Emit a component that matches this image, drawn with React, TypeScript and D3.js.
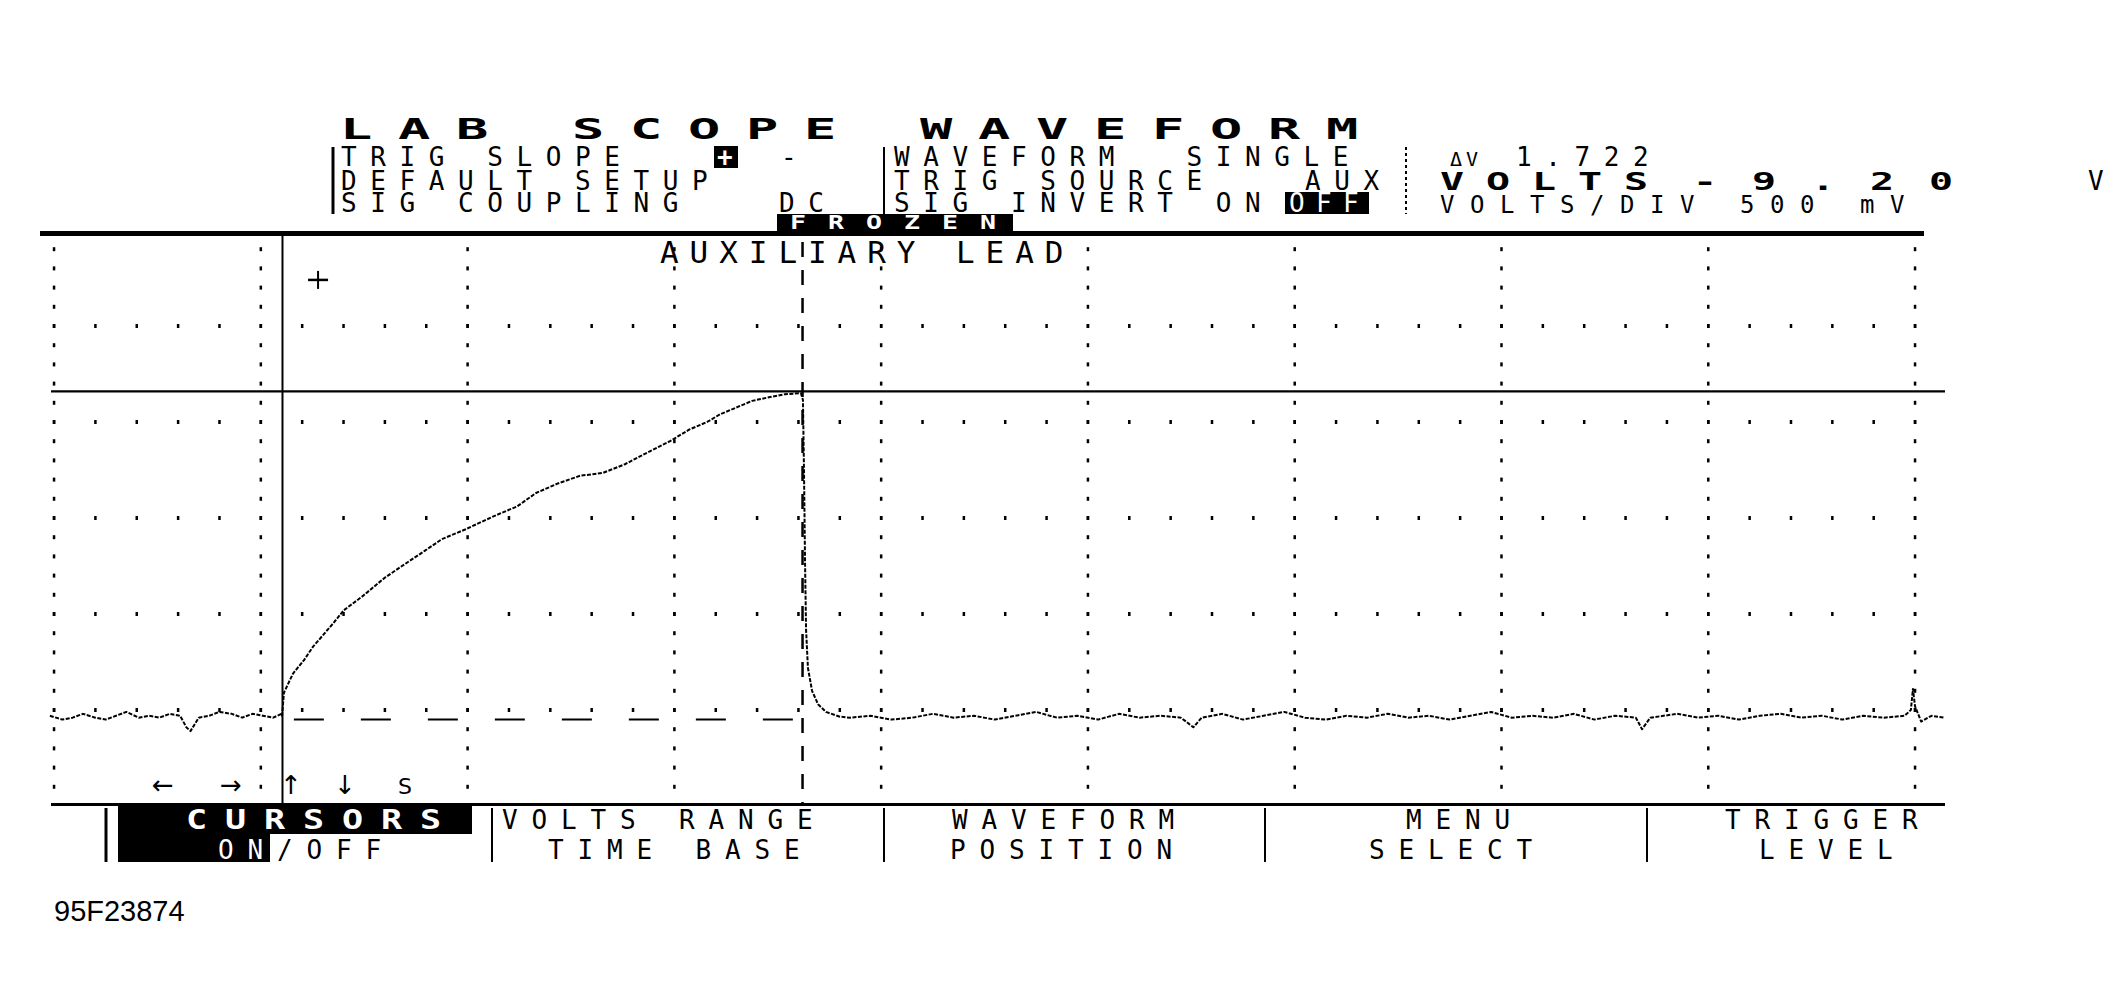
import React from "react";
import * as d3 from "d3";

const W = 2113;
const H = 995;

// screen text
const titleText = "LAB SCOPE WAVEFORM";
const leftLabels = ["TRIG SLOPE", "DEFAULT SETUP", "SIG COUPLING"];
const slopeOptions = ["+", "-"];
const couplingValue = "DC";
const midLabels = ["WAVEFORM  SINGLE", "TRIG SOURCE", "SIG INVERT ON"];
const triggerSource = "AUX";
const invertValue = "OFF";
const frozenLabel = "FROZEN";
const deltaLabel = "ΔV";
const deltaValue = "1.722";
const voltsLabel = "VOLTS";
const voltsValue = "-9.20";
const voltsUnit = "V";
const voltsPerDiv = "VOLTS/DIV 500 mV";
const channelLabel = "AUXILIARY LEAD";
const cursorKeys = ["←", "→", "↑", "↓", "S"];
const menuTop = ["CURSORS", "VOLTS RANGE", "WAVEFORM", "MENU", "TRIGGER"];
const menuBottom = ["ON/OFF", "TIME BASE", "POSITION", "SELECT", "LEVEL"];
const figureId = "95F23874";

// trace, time in divisions, volts (500 mV/div)
const preTime = [-0.02, 0.04, 0.09, 0.14, 0.2, 0.25, 0.3, 0.35, 0.41, 0.46, 0.51, 0.56, 0.61, 0.64, 0.66, 0.7, 0.75, 0.8, 0.86, 0.91, 0.96, 1.01, 1.06, 1.1];
const preVolts = [0.47, 0.45, 0.46, 0.48, 0.46, 0.45, 0.47, 0.49, 0.46, 0.47, 0.46, 0.48, 0.47, 0.41, 0.39, 0.46, 0.47, 0.49, 0.48, 0.46, 0.48, 0.47, 0.46, 0.48];

const rampTime = [1.103, 1.112, 1.156, 1.209, 1.253, 1.349, 1.402, 1.489, 1.601, 1.683, 1.794, 1.876, 1.988, 2.128, 2.239, 2.331, 2.437, 2.544, 2.655, 2.761, 2.868, 2.979, 3.071, 3.158, 3.221, 3.288, 3.376, 3.463, 3.535, 3.612, 3.622, 3.627, 3.632, 3.637, 3.646, 3.666, 3.695, 3.733, 3.801];
const rampVolts = [0.47, 0.59, 0.69, 0.76, 0.83, 0.95, 1.02, 1.09, 1.19, 1.25, 1.33, 1.39, 1.44, 1.51, 1.56, 1.63, 1.68, 1.72, 1.735, 1.78, 1.84, 1.9, 1.96, 2.0, 2.04, 2.07, 2.11, 2.13, 2.145, 2.15, 2.115, 1.75, 1.28, 0.92, 0.72, 0.6, 0.53, 0.49, 0.465];

const postTime = [3.85, 3.95, 4.05, 4.15, 4.25, 4.35, 4.45, 4.55, 4.65, 4.75, 4.85, 4.95, 5.05, 5.15, 5.25, 5.35, 5.45, 5.51, 5.55, 5.65, 5.75, 5.85, 5.95, 6.05, 6.15, 6.25, 6.35, 6.45, 6.55, 6.65, 6.75, 6.85, 6.95, 7.05, 7.15, 7.25, 7.35, 7.45, 7.55, 7.65, 7.68, 7.72, 7.85, 7.95, 8.05, 8.15, 8.25, 8.35, 8.45, 8.55, 8.65, 8.75, 8.85, 8.95, 8.98, 8.99, 9.0, 9.03, 9.08, 9.14];
const postVolts = [0.46, 0.47, 0.45, 0.46, 0.48, 0.46, 0.47, 0.45, 0.47, 0.49, 0.46, 0.47, 0.45, 0.48, 0.46, 0.47, 0.46, 0.41, 0.46, 0.48, 0.45, 0.47, 0.49, 0.46, 0.45, 0.47, 0.46, 0.48, 0.46, 0.47, 0.45, 0.47, 0.49, 0.46, 0.47, 0.46, 0.48, 0.45, 0.47, 0.46, 0.4, 0.46, 0.48, 0.46, 0.47, 0.45, 0.47, 0.48, 0.46, 0.47, 0.45, 0.47, 0.46, 0.47, 0.5, 0.61, 0.52, 0.44, 0.47, 0.46];

// faint previous baseline under the ramp
const ghostTime = [1.16, 3.58];
const ghostVolts = [0.45, 0.45];

const cursorTime = [1.105, 3.62];
const cursorVolts = [2.16];
const markerTime = [1.277];
const markerVolts = [2.74];

const FONT = "DejaVu Sans Mono, monospace";

function Lcd({ x, y, text, pitch = 29.25, size = 26, bold = false, sx = 1, fill = "#000" }) {
  const xs = Array.from(text).map((_, i) => ((i * pitch) / sx).toFixed(1));
  return (
    <text
      transform={`translate(${x},${y}) scale(${sx},1)`}
      x={xs.join(" ")}
      y={0}
      xmlSpace="preserve"
      fontFamily={FONT}
      fontSize={size}
      fontWeight={bold ? 700 : 400}
      fill={fill}
    >
      {text}
    </text>
  );
}

export default function App() {
  const x = d3.scaleLinear().domain([0, 9]).range([54, 1915]);
  const y = d3.scaleLinear().domain([0, 3]).range([806, 230]);

  const xMajor = x.ticks(9);
  const xMinor = d3.range(0, 9.001, 0.2);
  const yMajor = [0.5, 1, 1.5, 2, 2.5];
  const yMinor = d3.range(0.1, 2.95, 0.1);

  const line = d3
    .line<[number, number]>()
    .x((d) => x(d[0]))
    .y((d) => y(d[1]));

  const trace: [number, number][] = [
    ...preTime.map((t, i) => [t, preVolts[i]] as [number, number]),
    ...rampTime.map((t, i) => [t, rampVolts[i]] as [number, number]),
    ...postTime.map((t, i) => [t, postVolts[i]] as [number, number]),
  ];
  const ghost: [number, number][] = ghostTime.map((t, i) => [t, ghostVolts[i]]);

  const cx0 = x(cursorTime[0]);
  const cx1 = x(cursorTime[1]);
  const cy = y(cursorVolts[0]);
  const mx = x(markerTime[0]);
  const my = y(markerVolts[0]);

  // header rows (baselines)
  const r1 = 166;
  const r2 = 190;
  const r3 = 212;

  const menuStart = [
    [186, 218],
    [502, 548],
    [952, 950],
    [1406, 1369],
    [1725, 1759],
  ];
  const menuSeps = [106, 492, 884, 1265, 1647];
  const keyX = [152, 220, 280, 334, 398];
  const m1 = 829;
  const m2 = 859;

  return (
    <svg width={W} height={H} style={{ position: "absolute", left: 0, top: 0, background: "#fff" }}>
      <rect width={W} height={H} fill="#fff" />

      {/* header */}
      <Lcd x={340} y={139} text={titleText} pitch={58} size={29} bold sx={1.85} />
      <line x1={333} x2={333} y1={147} y2={214} stroke="#000" strokeWidth={3} />
      <line x1={884} x2={884} y1={147} y2={214} stroke="#000" strokeWidth={2} />
      <line x1={1406} x2={1406} y1={147} y2={214} stroke="#000" strokeWidth={2} strokeDasharray="3 3" />

      <Lcd x={341} y={r1} text={leftLabels[0]} />
      <rect x={714} y={146} width={24} height={22} fill="#000" />
      <Lcd x={717} y={r1} text={slopeOptions[0]} fill="#fff" bold />
      <Lcd x={781} y={r1} text={slopeOptions[1]} />
      <Lcd x={894} y={r1} text={midLabels[0]} />
      <Lcd x={1450} y={r1} text={deltaLabel} size={20} pitch={16} />
      <Lcd x={1516} y={r1} text={deltaValue} />

      <Lcd x={341} y={r2} text={leftLabels[1]} />
      <Lcd x={894} y={r2} text={midLabels[1]} />
      <Lcd x={1305} y={r2} text={triggerSource} />
      <Lcd x={1440} y={r2} text={voltsLabel} pitch={46} size={25} bold sx={1.6} />
      <Lcd x={1693} y={r2} text={voltsValue} pitch={59} size={25} bold sx={1.6} />
      <Lcd x={2088} y={r2} text={voltsUnit} />

      <Lcd x={341} y={r3} text={leftLabels[2]} />
      <Lcd x={779} y={r3} text={couplingValue} />
      <Lcd x={894} y={r3} text={midLabels[2]} />
      <rect x={1285} y={192} width={84} height={22} fill="#000" />
      <Lcd x={1289} y={r3} text={invertValue} pitch={27} fill="#fff" />
      <Lcd x={1440} y={r3 + 1} text={voltsPerDiv} pitch={30} size={24} />

      <rect x={777} y={214} width={236} height={17} fill="#000" />
      <Lcd x={790} y={229} text={frozenLabel} pitch={38} size={19} bold sx={1.4} fill="#fff" />

      {/* screen frame */}
      <rect x={40} y={231} width={1884} height={5} fill="#000" />
      <rect x={51} y={803} width={1894} height={3} fill="#000" />

      {/* grid dots */}
      <g fill="#000">
        {xMajor.map((t) =>
          yMinor.map((v) => (
            <rect key={`v${t}-${v}`} x={x(t) - 1.2} y={y(v) - 2} width={2.5} height={4} />
          ))
        )}
        {yMajor.map((v) =>
          xMinor.map((t) => (
            <rect key={`h${v}-${t}`} x={x(t) - 1.2} y={y(v) - 2} width={2.5} height={4} />
          ))
        )}
      </g>

      <Lcd x={660} y={263} text={channelLabel} pitch={29.6} size={31} />

      {/* cursors */}
      <line x1={51} x2={1945} y1={cy} y2={cy} stroke="#000" strokeWidth={2.2} />
      <line x1={cx0} x2={cx0} y1={235} y2={803} stroke="#000" strokeWidth={2} />
      <line x1={cx1} x2={cx1} y1={242} y2={803} stroke="#000" strokeWidth={2.5} strokeDasharray="15 13" />
      <line x1={mx - 10} x2={mx + 10} y1={my} y2={my} stroke="#000" strokeWidth={2.5} />
      <line x1={mx} x2={mx} y1={my - 9} y2={my + 9} stroke="#000" strokeWidth={2} />

      {/* waveform */}
      <path d={line(ghost) || ""} fill="none" stroke="#000" strokeWidth={2} strokeDasharray="30 37" />
      <path d={line(trace) || ""} fill="none" stroke="#000" strokeWidth={2} strokeDasharray="4 1.5" strokeLinejoin="round" />

      {/* cursor keys */}
      {cursorKeys.map((k, i) => (
        <text key={k} x={keyX[i]} y={794} fontFamily="DejaVu Sans, sans-serif" fontSize={i === 4 ? 22 : 26} fill="#000">
          {k}
        </text>
      ))}

      {/* soft menu */}
      {menuSeps.map((sx, i) => (
        <line key={sx} x1={sx} x2={sx} y1={808} y2={862} stroke="#000" strokeWidth={i === 0 ? 3 : 2} />
      ))}
      <rect x={118} y={806} width={354} height={28} fill="#000" />
      <rect x={118} y={834} width={152} height={28} fill="#000" />
      {menuTop.map((m, i) =>
        i === 0 ? (
          <Lcd key={m} x={menuStart[i][0]} y={m1} text={m} size={26} pitch={39} bold sx={1.35} fill="#fff" />
        ) : (
          <Lcd key={m} x={menuStart[i][0]} y={m1} text={m} size={26} pitch={29.5} />
        )
      )}
      {menuBottom.map((m, i) =>
        i === 0 ? (
          <g key={m}>
            <Lcd x={menuStart[i][1]} y={m2} text={m.slice(0, 2)} size={26} pitch={29.5} fill="#fff" />
            <Lcd x={menuStart[i][1] + 59} y={m2} text={m.slice(2)} size={26} pitch={29.5} />
          </g>
        ) : (
          <Lcd key={m} x={menuStart[i][1]} y={m2} text={m} size={26} pitch={29.5} />
        )
      )}

      <text x={54} y={921} fontFamily="Liberation Sans, Arial, sans-serif" fontSize={29} fill="#000">
        {figureId}
      </text>
    </svg>
  );
}
